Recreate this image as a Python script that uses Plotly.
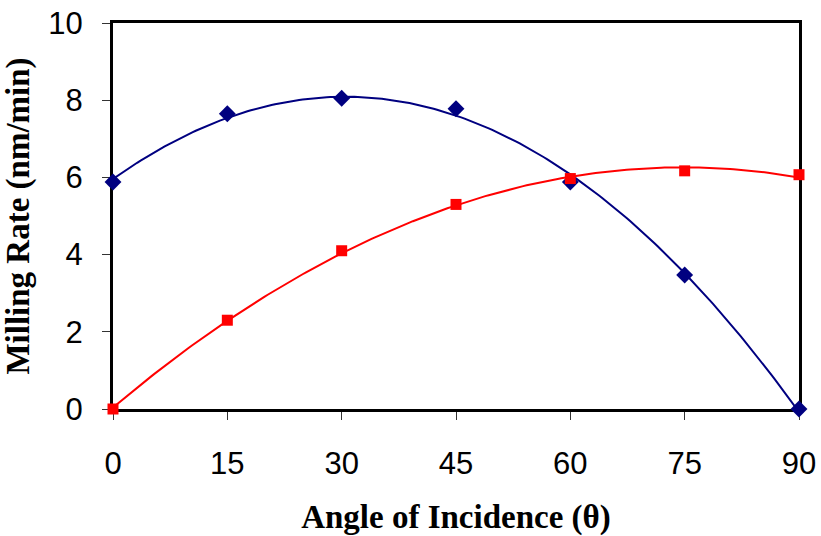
import numpy as np
import plotly.graph_objects as go

# Milling rate vs. angle of incidence for two materials
angles = [0, 15, 30, 45, 60, 75, 90]
rate_blue = [5.88, 7.65, 8.05, 7.78, 5.88, 3.47, 0.0]
rate_red = [0.0, 2.30, 4.10, 5.30, 5.97, 6.17, 6.07]

x_ticks = [0, 15, 30, 45, 60, 75, 90]
y_ticks = [0, 2, 4, 6, 8, 10]

BLUE = "#000080"
RED = "#FF0000"

# Second-order polynomial trendlines fitted through each series
xs = np.linspace(0, 90, 200)
fit_blue = np.polyval(np.polyfit(angles, rate_blue, 2), xs)
fit_red = np.polyval(np.polyfit(angles, rate_red, 2), xs)

fig = go.Figure()
fig.add_trace(go.Scatter(x=xs, y=fit_blue, mode="lines",
                         line=dict(color=BLUE, width=2), hoverinfo="skip",
                         showlegend=False))
fig.add_trace(go.Scatter(x=xs, y=fit_red, mode="lines",
                         line=dict(color=RED, width=2), hoverinfo="skip",
                         showlegend=False))
fig.add_trace(go.Scatter(x=angles, y=rate_blue, mode="markers",
                         marker=dict(symbol="diamond", size=13, color=BLUE),
                         cliponaxis=False, showlegend=False))
fig.add_trace(go.Scatter(x=angles, y=rate_red, mode="markers",
                         marker=dict(symbol="square", size=11, color=RED),
                         cliponaxis=False, showlegend=False))

tick_font = dict(family="Liberation Sans, Arial, sans-serif", size=31, color="black")
title_font = dict(family="Liberation Serif, Times New Roman, serif", size=33, color="black")

fig.update_layout(
    width=821, height=536,
    margin=dict(l=113, r=22, t=23, b=127, autoexpand=False),
    paper_bgcolor="white", plot_bgcolor="white",
    xaxis=dict(
        range=[0, 90], tickvals=x_ticks, ticktext=[str(v) for v in x_ticks],
        showgrid=False, zeroline=False,
        showline=True, linecolor="black", linewidth=3, mirror=True,
        ticks="outside", ticklen=8, tickwidth=1, tickcolor="#333333",
        tickfont=tick_font, ticklabelstandoff=17,
        title=dict(text="<b>Angle of Incidence (θ)</b>", font=title_font, standoff=26),
        layer="below traces", automargin=False,
    ),
    yaxis=dict(
        range=[0, 10], tickvals=y_ticks, ticktext=[str(v) for v in y_ticks],
        showgrid=False, zeroline=False,
        showline=True, linecolor="black", linewidth=3, mirror=True,
        ticks="outside", ticklen=8, tickwidth=1, tickcolor="#333333",
        tickfont=tick_font, ticklabelstandoff=13,
        title=dict(text="<b>Milling Rate (nm/min)</b>", font=title_font, standoff=10),
        layer="below traces", automargin=False,
    ),
)

fig.write_html("out.html")
